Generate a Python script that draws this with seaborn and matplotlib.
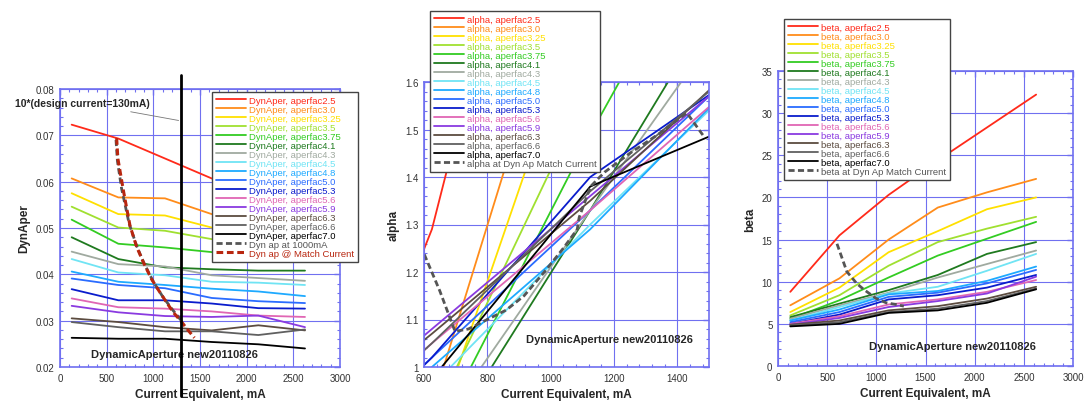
import matplotlib
matplotlib.use("Agg")
import matplotlib.pyplot as plt
from matplotlib.ticker import MultipleLocator, AutoMinorLocator
import seaborn as sns

sns.set_theme(style="white")
plt.rcParams["font.family"] = ["Liberation Sans", "DejaVu Sans"]

# aperture factors and their line colours
aperfac = ["2.5", "3.0", "3.25", "3.5", "3.75", "4.1", "4.3", "4.5",
           "4.8", "5.0", "5.3", "5.6", "5.9", "6.3", "6.6", "7.0"]
colors = ["#ff2a1a", "#ff8c1a", "#ffe000", "#a0e030", "#33cc22", "#1f7a1f",
          "#a0aaa0", "#70e4f4", "#1eaaff", "#2a6cff", "#0a1ccc", "#e066b4",
          "#8a3ae0", "#5c4c40", "#606060", "#000000"]

# current equivalent (mA) of the computed points
current = [125, 625, 1125, 1625, 2125, 2625]
alpha_current = [125, 625, 1125, 1625]

# dynamic aperture per aperfac
dynaper = [
    [0.0723, 0.0693, 0.0650, 0.0607, 0.0580, 0.0560],
    [0.0607, 0.0566, 0.0564, 0.0530, 0.0515, 0.0500],
    [0.0575, 0.0530, 0.0527, 0.0501, 0.0490, 0.0480],
    [0.0546, 0.0501, 0.0494, 0.0476, 0.0465, 0.0455],
    [0.0518, 0.0466, 0.0458, 0.0448, 0.0437, 0.0427],
    [0.0480, 0.0433, 0.0415, 0.0411, 0.0408, 0.0408],
    [0.0449, 0.0422, 0.0417, 0.0398, 0.0392, 0.0386],
    [0.0433, 0.0404, 0.0398, 0.0384, 0.0382, 0.0377],
    [0.0406, 0.0384, 0.0377, 0.0369, 0.0363, 0.0353],
    [0.0391, 0.0377, 0.0370, 0.0349, 0.0342, 0.0338],
    [0.0368, 0.0344, 0.0344, 0.0337, 0.0327, 0.0326],
    [0.0348, 0.0329, 0.0326, 0.0320, 0.0311, 0.0308],
    [0.0332, 0.0318, 0.0310, 0.0308, 0.0311, 0.0286],
    [0.0305, 0.0297, 0.0286, 0.0279, 0.0290, 0.0279],
    [0.0297, 0.0286, 0.0277, 0.0277, 0.0269, 0.0281],
    [0.0263, 0.0261, 0.0261, 0.0254, 0.0249, 0.0240],
]

alpha = [
    [0.45, 1.29, 2.60, 3.60],
    [0.45, 0.92, 2.00, 3.00],
    [0.45, 0.84, 1.81, 2.70],
    [0.50, 0.89, 1.59, 2.25],
    [0.50, 0.84, 1.49, 2.09],
    [0.50, 0.80, 1.33, 1.88],
    [0.55, 0.85, 1.33, 1.80],
    [0.60, 0.96, 1.30, 1.62],
    [0.65, 1.00, 1.29, 1.63],
    [0.70, 1.02, 1.33, 1.65],
    [0.70, 1.02, 1.40, 1.63],
    [0.75, 1.05, 1.33, 1.62],
    [0.80, 1.08, 1.36, 1.64],
    [0.80, 1.07, 1.35, 1.66],
    [0.75, 1.05, 1.37, 1.65],
    [0.70, 0.975, 1.38, 1.52],
]

beta = [
    [8.8, 15.5, 20.3, 24.4, 28.3, 32.2],
    [7.2, 10.4, 15.0, 18.8, 20.6, 22.2],
    [6.4, 9.3, 13.5, 16.0, 18.6, 20.0],
    [6.0, 8.4, 11.9, 14.7, 16.3, 17.7],
    [5.6, 7.8, 10.5, 13.1, 15.1, 17.1],
    [5.8, 7.4, 9.0, 10.8, 13.3, 14.7],
    [5.6, 7.2, 8.7, 10.5, 12.1, 13.7],
    [5.4, 7.0, 8.6, 9.4, 11.3, 13.3],
    [5.4, 6.7, 8.5, 8.9, 10.1, 11.8],
    [5.2, 6.4, 8.2, 8.7, 9.8, 11.4],
    [5.0, 6.1, 7.9, 8.4, 9.3, 10.8],
    [5.0, 5.9, 7.3, 7.9, 8.8, 10.2],
    [4.9, 5.7, 7.0, 7.7, 8.6, 10.6],
    [4.9, 5.4, 6.6, 7.1, 8.0, 9.4],
    [4.8, 5.2, 6.4, 6.8, 7.7, 9.2],
    [4.7, 5.0, 6.3, 6.6, 7.5, 9.1],
]

# values at the dynamic-aperture match current
match_current = [607, 620, 680, 750, 820, 893, 980, 1071, 1140, 1214, 1304, 1370, 1440]
match_dynaper = [0.0694, 0.0650, 0.0580, 0.0505, 0.0460, 0.0426, 0.0390,
                 0.0361, 0.0340, 0.0318, 0.0297, 0.0280, 0.0263]
at1000_current = [600, 615, 660, 740, 820, 900, 1000, 1100, 1200, 1300]
at1000_dynaper = [0.0690, 0.0645, 0.0585, 0.0510, 0.0462, 0.0424, 0.0384,
                  0.0352, 0.0325, 0.0300]
alpha_match_current = [601, 650, 698, 740, 800, 860, 916, 980, 1040, 1084,
                       1090, 1126, 1170, 1250, 1340, 1430, 1482]
alpha_match = [1.237, 1.16, 1.075, 1.08, 1.10, 1.12, 1.15, 1.20, 1.25, 1.29,
               1.315, 1.38, 1.41, 1.45, 1.49, 1.535, 1.487]
beta_match_current = [600, 700, 800, 870, 1000, 1100, 1200, 1280]
beta_match = [14.5, 11.2, 9.8, 9.1, 8.0, 7.5, 7.3, 7.1]

design_current = 1300
stamp = "DynamicAperture new20110826"
grid_blue = "#7070f0"
short_dash = (0, (2.2, 1.2))

fig = plt.figure(figsize=(10.86, 4.06), dpi=100)
W, H = 1086, 406


def make_axes(left, right, top, bottom):
    return fig.add_axes([left / W, 1 - bottom / H, (right - left) / W, (bottom - top) / H])


def style(ax):
    for s in ax.spines.values():
        s.set_color(grid_blue)
        s.set_linewidth(1.2)
    ax.grid(True, which="major", color=grid_blue, lw=0.8)
    ax.xaxis.set_minor_locator(AutoMinorLocator(5))
    ax.yaxis.set_minor_locator(AutoMinorLocator(5))
    ax.tick_params(which="both", direction="in", top=True, right=True,
                   color=grid_blue, labelsize=7, labelcolor="#333333", pad=4)
    ax.tick_params(which="major", length=4, width=1)
    ax.tick_params(which="minor", length=2, width=0.8, bottom=True, left=True)


def add_legend(ax, fx, fy):
    leg = ax.legend(loc="upper left", bbox_to_anchor=(fx / W, 1 - fy / H),
                    bbox_transform=fig.transFigure, fontsize=6.8, labelspacing=0.0,
                    handlelength=3.2, handletextpad=0.3, borderpad=0.4,
                    borderaxespad=0, fancybox=False, framealpha=1, edgecolor="#444444")
    leg.get_frame().set_linewidth(1)
    for txt, ln in zip(leg.get_texts(), leg.get_lines()):
        txt.set_color(ln.get_color())
    return leg


# ---- panel 1: dynamic aperture
ax1 = make_axes(60, 340, 90, 368)
for lab, col, ys in zip(aperfac, colors, dynaper):
    sns.lineplot(x=current, y=ys, color=col, lw=1.3, label="DynAper, aperfac" + lab,
                 sort=False, estimator=None, ax=ax1)
sns.lineplot(x=at1000_current, y=at1000_dynaper, color="#555555", lw=2, linestyle=short_dash,
             label="Dyn ap at 1000mA", sort=False, estimator=None, ax=ax1)
sns.lineplot(x=match_current, y=match_dynaper, color="#b8260f", lw=2.2, linestyle=short_dash,
             label="Dyn ap @ Match Current", sort=False, estimator=None, ax=ax1)
ax1.set_xlim(0, 3000)
ax1.set_ylim(0.02, 0.08)
ax1.xaxis.set_major_locator(MultipleLocator(500))
ax1.yaxis.set_major_locator(MultipleLocator(0.01))
ax1.yaxis.set_major_formatter(plt.FormatStrFormatter("%.2f"))
style(ax1)
ax1.axvline(design_current, ymin=-0.104, ymax=1.05, color="black", lw=2, clip_on=False, zorder=4)
ax1.annotate("10*(design current=130mA)", xy=(design_current, 0.0731),
             xytext=(15 / W, 1 - 104 / H), textcoords="figure fraction",
             ha="left", va="center", fontsize=7.5, fontweight="bold",
             arrowprops=dict(arrowstyle="-", color="#777777", lw=0.6))
ax1.text(0.41, 0.047, stamp, transform=ax1.transAxes, ha="center", va="center",
         fontsize=8, fontweight="bold", zorder=3)
ax1.set_xlabel("Current Equivalent, mA", fontsize=8.5, fontweight="bold")
ax1.set_ylabel("DynAper", fontsize=8.5, fontweight="bold")
add_legend(ax1, 212, 93)

# ---- panel 2: alpha
ax2 = make_axes(424, 709, 83, 368)
for lab, col, ys in zip(aperfac, colors, alpha):
    sns.lineplot(x=alpha_current, y=ys, color=col, lw=1.3, label="alpha, aperfac" + lab,
                 sort=False, estimator=None, ax=ax2)
sns.lineplot(x=alpha_match_current, y=alpha_match, color="#555555", lw=2, linestyle=short_dash,
             label="alpha at Dyn Ap Match Current", sort=False, estimator=None, ax=ax2)
ax2.set_xlim(600, 1500)
ax2.set_ylim(1, 1.6)
ax2.xaxis.set_major_locator(MultipleLocator(200))
ax2.yaxis.set_major_locator(MultipleLocator(0.1))
ax2.yaxis.set_major_formatter(plt.FuncFormatter(lambda v, p: f"{v:g}"))
style(ax2)
ax2.text(0.649, 0.098, stamp, transform=ax2.transAxes, ha="center", va="center",
         fontsize=8, fontweight="bold")
ax2.set_xlabel("Current Equivalent, mA", fontsize=8.5, fontweight="bold")
ax2.set_ylabel("alpha", fontsize=8.5, fontweight="bold")
add_legend(ax2, 430, 12)

# ---- panel 3: beta
ax3 = make_axes(778, 1073, 72, 367)
for lab, col, ys in zip(aperfac, colors, beta):
    sns.lineplot(x=current, y=ys, color=col, lw=1.3, label="beta, aperfac" + lab,
                 sort=False, estimator=None, ax=ax3)
sns.lineplot(x=beta_match_current, y=beta_match, color="#555555", lw=2, linestyle=short_dash,
             label="beta at Dyn Ap Match Current", sort=False, estimator=None, ax=ax3)
ax3.set_xlim(0, 3000)
ax3.set_ylim(0, 35)
ax3.xaxis.set_major_locator(MultipleLocator(500))
ax3.yaxis.set_major_locator(MultipleLocator(5))
style(ax3)
ax3.text(0.59, 0.068, stamp, transform=ax3.transAxes, ha="center", va="center",
         fontsize=8, fontweight="bold")
ax3.set_xlabel("Current Equivalent, mA", fontsize=8.5, fontweight="bold")
ax3.set_ylabel("beta", fontsize=8.5, fontweight="bold")
add_legend(ax3, 784, 20)

fig.savefig("out.png", dpi=100)
